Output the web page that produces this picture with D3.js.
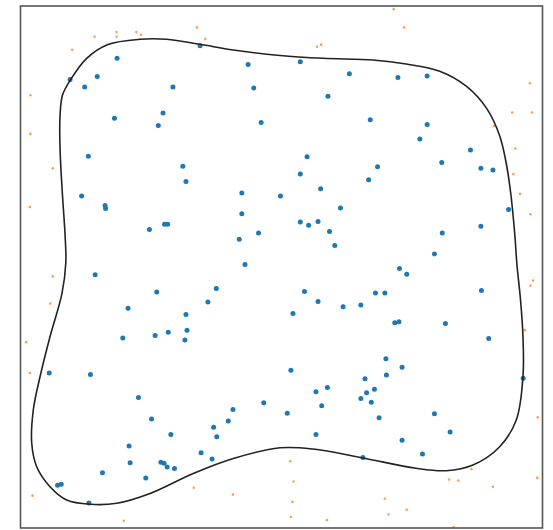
<!DOCTYPE html>
<html>

<head>
  <meta charset='utf-8'>
  <style>
    body { margin: 0; background: #fff; }
  </style>
  <script type="text/javascript" src="https://cdn.jsdelivr.net/npm/d3@7"></script>
</head>

<body>

  <script type='module'>
    let [width, height] = [553, 530]

    // points inside the boundary
    const innerX = [18.5, 9.5, 14.7, 12.3, 18.0, 13.0, 11.7, 16.2, 16.3, 24.7, 34.4, 43.6, 29.2, 44.7, 27.3, 26.4, 46.1, 31.1, 31.7, 42.4,
      49.8, 42.4, 27.6, 28.2, 45.6, 41.9, 43.0, 53.6, 63.0, 72.3, 58.9, 67.0, 54.9, 53.6, 68.4, 66.7, 57.5, 61.3, 53.6, 55.2,
      57.0, 59.2, 60.2, 72.6, 77.9, 77.9, 76.5, 86.2, 80.7, 88.2, 90.5, 93.5, 88.2, 80.8, 79.3, 14.3, 20.6, 19.6, 5.5, 13.4,
      22.6, 25.1, 20.8, 21.0, 15.7, 24.0, 7.1, 7.8, 13.1, 26.1, 37.5, 35.9, 31.7, 25.8, 28.3, 31.9, 31.5, 46.6, 40.7, 39.8,
      37.0, 37.6, 28.8, 34.6, 36.7, 26.9, 27.5, 28.1, 29.5, 74.0, 54.4, 57.0, 52.2, 61.8, 65.2, 68.0, 69.8, 71.7, 72.5, 70.0,
      73.1, 51.8, 66.0, 70.1, 67.8, 66.3, 65.2, 67.2, 56.6, 58.8, 57.7, 51.1, 68.7, 56.6, 73.1, 65.6, 88.3, 81.4, 89.7, 96.3,
      79.3, 82.3, 77.0]
    const innerY = [90.0, 85.9, 86.5, 84.5, 78.5, 71.2, 63.6, 61.8, 61.2, 57.2, 92.4, 88.8, 84.5, 84.3, 79.5, 77.1, 77.7, 69.3, 66.4, 64.2,
      63.6, 60.2, 58.2, 58.2, 56.5, 55.3, 50.5, 89.3, 87.0, 86.3, 82.7, 78.2, 71.1, 67.8, 69.2, 66.7, 65.0, 61.3, 58.6, 58.0,
      58.7, 56.8, 54.1, 49.7, 86.6, 77.3, 74.5, 72.4, 70.0, 68.9, 68.6, 61.0, 57.8, 56.5, 52.5, 48.5, 42.1, 36.4, 29.7, 29.4,
      25.0, 20.9, 15.7, 12.5, 10.6, 9.6, 8.2, 8.4, 4.8, 45.2, 45.9, 43.3, 40.9, 36.9, 37.5, 37.9, 36.0, 24.0, 22.7, 20.5,
      19.3, 17.5, 17.9, 14.4, 13.2, 12.6, 12.4, 11.7, 11.4, 48.6, 45.3, 43.4, 41.1, 42.4, 42.7, 45.0, 45.0, 39.3, 39.5, 32.4,
      30.8, 30.2, 28.6, 29.3, 26.6, 25.9, 24.8, 24.1, 26.1, 26.9, 23.4, 22.0, 21.1, 17.9, 16.8, 13.5, 45.5, 39.2, 36.3, 28.7,
      21.9, 18.4, 14.2]

    // points outside the boundary
    const outerX = [14.2, 18.4, 18.4, 22.2, 23.1, 9.9, 1.9, 1.9, 6.2, 1.8, 33.8, 35.4, 71.5, 73.5, 56.8, 57.6, 97.6, 94.2, 98.0, 90.7,
      94.8, 94.4, 95.7, 97.7, 6.2, 5.7, 1.1, 1.8, 2.3, 19.8, 33.2, 40.7, 51.7, 52.3, 52.1, 51.8, 58.7, 69.8, 70.5, 74.0,
      98.2, 97.7, 96.6, 99.1, 86.4, 82.1, 83.9, 90.5, 99.0, 83.0]
    const outerY = [94.1, 95.0, 94.1, 95.0, 94.5, 91.6, 82.9, 75.5, 68.9, 61.5, 95.9, 93.7, 99.4, 95.9, 92.2, 92.6, 85.2, 79.6, 79.6, 77.0,
      72.7, 67.8, 64.0, 60.1, 48.2, 43.0, 35.6, 29.7, 6.2, 1.4, 7.7, 6.4, 12.8, 8.9, 5.0, 2.1, 1.5, 5.6, 2.6, 3.5,
      47.4, 46.4, 37.9, 21.2, 11.3, 9.3, 9.1, 7.9, 9.6, 0.2]

    // decision boundary (closed)
    const boundaryX = [7.57, 8.05, 9.67, 12.68, 16.76, 22.89, 28.01, 34.39, 40.77, 49.71, 57.95, 67.53, 73.91, 80.31, 85.40, 89.33,
      91.76, 93.01, 93.96, 94.67, 95.11, 95.79, 96.26, 96.26, 94.98, 91.80, 86.69, 81.57, 75.77, 65.61, 56.03, 49.71, 40.77,
      33.10, 24.81, 18.43, 13.31, 8.85, 5.65, 3.10, 2.15, 2.45, 3.74, 5.65, 7.95, 8.68, 8.52, 8.10, 7.66, 7.53]
    const boundaryY = [78.93, 82.95, 86.01, 89.98, 92.62, 93.62, 93.62, 92.66, 91.57, 90.52, 89.98, 89.65, 88.89, 87.51, 84.63, 80.33,
      75.23, 70.11, 63.74, 56.46, 50.38, 43.68, 36.65, 28.98, 20.69, 15.57, 12.07, 10.98, 11.44, 13.41, 15.13, 15.36, 13.31,
      10.44, 6.61, 4.73, 4.54, 5.36, 7.91, 11.74, 16.23, 22.61, 28.98, 36.65, 44.96, 50.77, 56.46, 62.83, 70.50, 74.71]

    const svg = d3.select("body").append("svg")
      .attr("width", width)
      .attr("height", height)
      .attr("viewBox", [0, 0, width, height]);

    const x = d3.scaleLinear().domain([0, 100]).range([20.5, 542.5]);
    const y = d3.scaleLinear().domain([0, 100]).range([528, 6]);

    const outer = outerX.map((v, i) => [v, outerY[i]]);
    const inner = innerX.map((v, i) => [v, innerY[i]]);
    const boundary = boundaryX.map((v, i) => [v, boundaryY[i]]);

    svg.append("g")
      .attr("fill", "#ff7f0e")
      .attr("fill-opacity", 0.75)
      .selectAll("circle")
      .data(outer)
      .join("circle")
      .attr("cx", d => x(d[0]))
      .attr("cy", d => y(d[1]))
      .attr("r", 1.3);

    svg.append("g")
      .attr("fill", "#1f77b4")
      .selectAll("circle")
      .data(inner)
      .join("circle")
      .attr("cx", d => x(d[0]))
      .attr("cy", d => y(d[1]))
      .attr("r", 2.5);

    const line = d3.line()
      .x(d => x(d[0]))
      .y(d => y(d[1]))
      .curve(d3.curveCatmullRomClosed.alpha(0.5));

    svg.append("path")
      .datum(boundary)
      .attr("d", line)
      .attr("fill", "none")
      .attr("stroke", "#222")
      .attr("stroke-width", 1.6);

    // frame
    svg.append("rect")
      .attr("x", x(0))
      .attr("y", y(100))
      .attr("width", x(100) - x(0))
      .attr("height", y(0) - y(100))
      .attr("fill", "none")
      .attr("stroke", "#555")
      .attr("stroke-width", 1.6);
  </script>
</body>

</html>
